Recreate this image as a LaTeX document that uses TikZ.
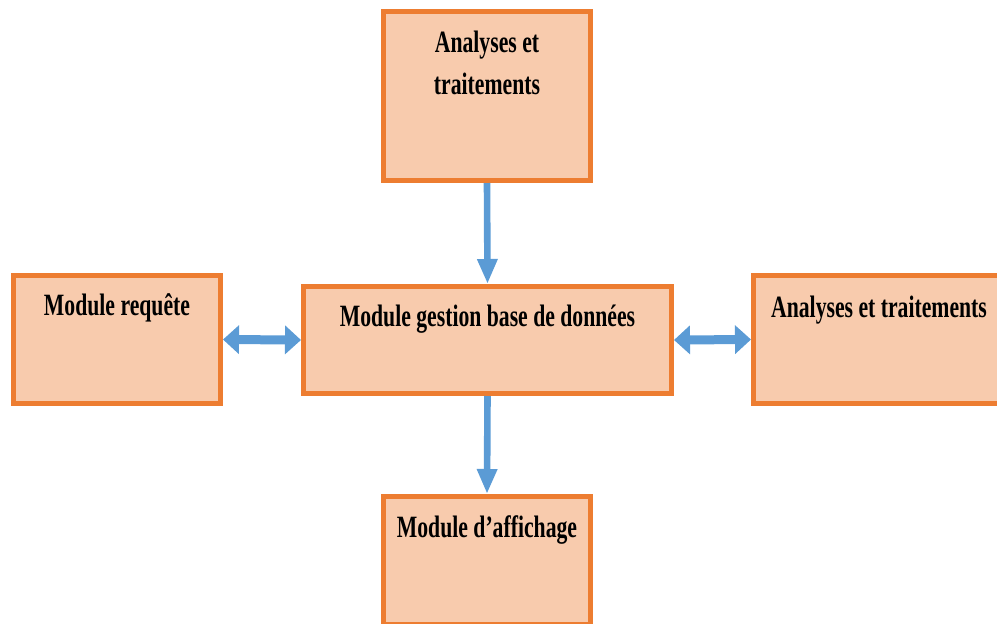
\documentclass[tikz,border=0pt]{standalone}
\usepackage{fontspec}
\newfontfamily\boxfont{Liberation Serif}[FakeStretch=0.70]
\usetikzlibrary{arrows.meta, positioning}
\definecolor{boxline}{HTML}{ED7D31}
\definecolor{boxfill}{HTML}{F8CBAD}
\definecolor{arrowblue}{HTML}{5B9BD5}

\begin{document}
\begin{tikzpicture}[x=0.5pt, y=-0.5pt,
    box/.style={draw=boxline, fill=boxfill, line width=2.5pt, minimum width=103.5pt, minimum height=64pt, inner sep=0pt},
    lbl/.style={anchor=base, align=center, inner sep=0pt, font=\boxfont\bfseries\fontsize{15.5}{21}\selectfont},
    varrow/.style={arrowblue, line width=3.3pt, -{Triangle[length=12.5pt, width=9.5pt]}},
    harrow/.style={arrowblue, line width=4.5pt, {Triangle[length=8pt, width=14pt]}-{Triangle[length=8pt, width=14pt]}}]
  \useasboundingbox (0,0) rectangle (997,623);
  \clip (0,0) rectangle (997,623);

  % boxes
  \node[box, minimum height=84.5pt] (top) at (487,96) {};
  \node[box] (left) at (117,339.5) {};
  \node[box, minimum width=184pt, minimum height=53.5pt] (center) at (487.5,340) {};
  \node[box, minimum width=125.5pt] (right) at (879,339.5) {};
  \node[box] (bottom) at (487,560.5) {};

  % texts
  \node[lbl] (topTxt) at ([yshift=-42.75pt]top.north) {Analyses et\\traitements};
  \node[lbl] (leftTxt) at ([yshift=-21.25pt]left.north) {Module requête};
  \node[lbl] (centerTxt) at ([yshift=-21pt]center.north) {Module gestion base de données};
  \node[lbl] (rightTxt) at ([yshift=-22.25pt]right.north) {Analyses et traitements};
  \node[lbl] (bottomTxt) at ([yshift=-21.75pt]bottom.north) {Module d’affichage};

  % arrows
  \draw[varrow] (top.south) -- (center.north);
  \draw[varrow] (center.south) -- (bottom.north);
  \draw[harrow] (left.east) -- (center.west);
  \draw[harrow] (center.east) -- (right.west);
\end{tikzpicture}
\end{document}
